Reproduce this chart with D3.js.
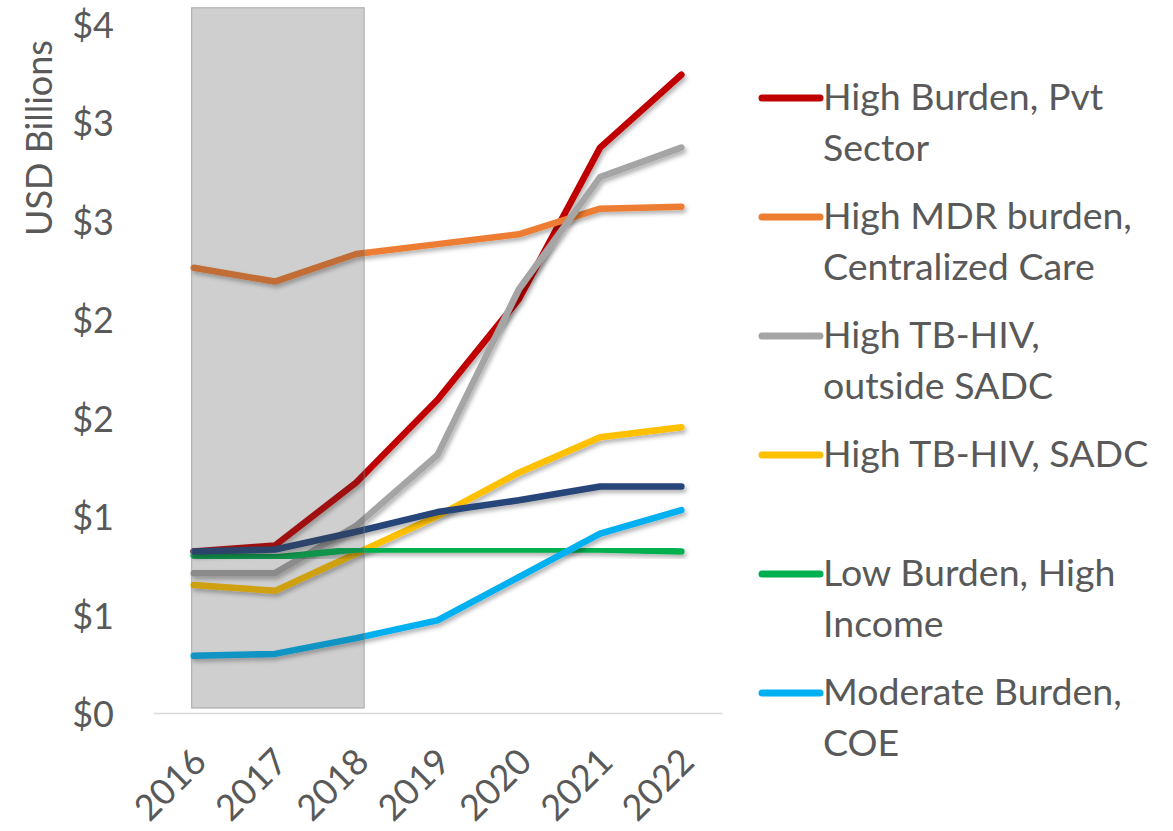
<!DOCTYPE html>
<html>
<head>
<meta charset="utf-8">
<script src="https://cdn.jsdelivr.net/npm/d3@7"></script>
<style>
body { margin:0; background:#fff; }
text { font-family: Lato, "Open Sans", sans-serif; fill:#595959; }
</style>
</head>
<body>
<script>
// years on the category axis
var years = ["2016","2017","2018","2019","2020","2021","2022"];

// series values, USD billions
var highBurdenPvt   = [0.82, 0.85, 1.17, 1.59, 2.10, 2.87, 3.24];
var highMdrCentral  = [2.26, 2.19, 2.33, 2.38, 2.43, 2.56, 2.57];
var tbHivOutside    = [0.71, 0.71, 0.95, 1.31, 2.15, 2.72, 2.87];
var tbHivSadc       = [0.65, 0.62, 0.81, 1.00, 1.22, 1.40, 1.45];
var lowBurdenHigh   = [0.80, 0.79, 0.83, 0.83, 0.83, 0.83, 0.82];
var moderateCoe     = [0.29, 0.30, 0.38, 0.47, 0.69, 0.91, 1.03];
var unlabelled      = [0.82, 0.83, 0.92, 1.02, 1.08, 1.15, 1.15];

var legendLines = [["High Burden, Pvt","Sector"], ["High MDR burden,","Centralized Care"],
  ["High TB-HIV,","outside SADC"], ["High TB-HIV, SADC"], ["Low Burden, High","Income"],
  ["Moderate Burden,","COE"]];
var colors = ["#c00000","#ed7d31","#a5a5a5","#ffc000","#00b050","#00b0f0","#264478"];
var allValues = [highBurdenPvt, highMdrCentral, tbHivOutside, tbHivSadc, lowBurdenHigh, moderateCoe, unlabelled];

var yTicks = [0, 0.5, 1, 1.5, 2, 2.5, 3, 3.5];
var shadedFrom = "2016", shadedTo = "2018";

var width = 1173, height = 831;
var svg = d3.select("body").append("svg").attr("width",width).attr("height",height);

var defs = svg.append("defs");
var f = defs.append("filter").attr("id","shadow").attr("x","-10%").attr("y","-10%").attr("width","130%").attr("height","130%");
f.append("feDropShadow").attr("dx",2).attr("dy",3).attr("stdDeviation",2).attr("flood-color","#000").attr("flood-opacity",0.3);

var x = d3.scaleBand().domain(years).range([153, 722]);
var xc = function(d){ return x(d) + x.bandwidth()/2; };
var y = d3.scaleLinear().domain([0, 3.5]).range([713, 23.5]);

// y axis labels, no line
var yAxis = svg.append("g").attr("transform","translate(114,0)")
  .call(d3.axisLeft(y).tickValues(yTicks).tickSize(0).tickPadding(0).tickFormat(function(d){ return "$" + Math.round(d); }));
yAxis.select(".domain").remove();
yAxis.selectAll("text").style("font-size","36px").style("font-family","Lato, sans-serif").attr("fill","#595959")
  .attr("dy","0.38em");

svg.append("text").text("USD Billions")
  .attr("transform","translate(52,138) rotate(-90)")
  .attr("text-anchor","middle").style("font-size","36px");

// x axis
var xAxis = svg.append("g").attr("transform","translate(0,713)")
  .call(d3.axisBottom(x).tickSize(0).tickPadding(0));
xAxis.select(".domain").attr("stroke","#d9d9d9").attr("stroke-width",1.5);
xAxis.selectAll("text")
  .style("font-size","36px").style("font-family","Lato, sans-serif").attr("fill","#595959")
  .attr("text-anchor","end").attr("y",0).attr("dy","0.35em")
  .attr("transform","translate(6,42) rotate(-45)");

// lines
var line = d3.line().x(function(d,i){ return xc(years[i]); }).y(function(d){ return y(d); });
svg.selectAll(".series").data(allValues).enter().append("path")
  .attr("class","series")
  .attr("d", line)
  .attr("fill","none")
  .attr("stroke", function(d,i){ return colors[i]; })
  .attr("stroke-width",6.5)
  .attr("stroke-linecap","round")
  .attr("stroke-linejoin","round")
  .attr("filter","url(#shadow)");

// shaded historical period drawn over the lines
svg.append("rect")
  .attr("x", xc(shadedFrom) - 2)
  .attr("y", y(3.58))
  .attr("width", xc(shadedTo) + 8 - (xc(shadedFrom) - 2))
  .attr("height", y(0.025) - y(3.58))
  .attr("fill","rgb(64,64,64)").attr("fill-opacity",0.25)
  .attr("stroke","#808080").attr("stroke-opacity",0.6).attr("stroke-width",1);

// legend
var leg = svg.selectAll(".leg").data(legendLines).enter().append("g")
  .attr("class","leg")
  .attr("transform", function(d,i){ return "translate(762," + (98 + i*119) + ")"; });
leg.append("line").attr("x1",0).attr("x2",58).attr("y1",0).attr("y2",0)
  .attr("stroke", function(d,i){ return colors[i]; })
  .attr("stroke-width",7).attr("stroke-linecap","round");
leg.each(function(d){
  var g = d3.select(this);
  d.forEach(function(t,j){
    g.append("text").text(t).attr("x",61).attr("y",12 + j*51).style("font-size","37.5px");
  });
});
</script>
</body>
</html>
